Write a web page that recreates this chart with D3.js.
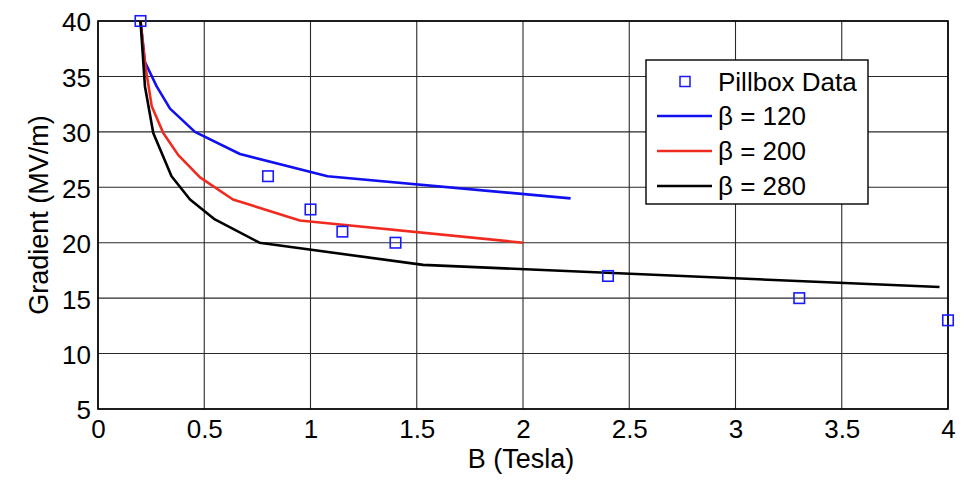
<!DOCTYPE html>
<html>
<head>
<meta charset="utf-8">
<script src="https://cdn.jsdelivr.net/npm/d3@7"></script>
<style>
  html, body { margin: 0; padding: 0; background: #fff; }
  svg { display: block; font-family: "Liberation Sans", Arial, Helvetica, sans-serif; }
</style>
</head>
<body>
<svg id="chart" width="973" height="483"></svg>
<script>
// Measured gradient vs. magnetic field
const pillboxB = [0.2, 0.8, 1.0, 1.15, 1.4, 2.4, 3.3, 4.0];
const pillboxG = [40, 26, 23, 21, 20, 17, 15, 13];

// Model curves for three values of beta
const beta120B = [0.2, 0.221, 0.276, 0.339, 0.456, 0.668, 1.08, 2.224];
const beta120G = [40, 36.3, 34.1, 32.1, 30.0, 28.0, 26.0, 24.0];

const beta200B = [0.2, 0.221, 0.253, 0.307, 0.378, 0.48, 0.635, 0.95, 2.0];
const beta200G = [40, 36.2, 32.3, 29.9, 27.9, 25.9, 23.9, 22.0, 20.0];

const beta280B = [0.2, 0.221, 0.26, 0.346, 0.433, 0.55, 0.76, 1.53, 3.96];
const beta280G = [40, 34.1, 29.9, 26.0, 23.9, 22.1, 20.0, 18.0, 16.0];

const xTicks = [0, 0.5, 1, 1.5, 2, 2.5, 3, 3.5, 4];
const yTicks = [5, 10, 15, 20, 25, 30, 35, 40];

const seriesNames = ["Pillbox Data", "\u03B2 = 120", "\u03B2 = 200", "\u03B2 = 280"];
const seriesColors = ["#1a1aff", "#1010f0", "#f02a1e", "#000000"];

const svg = d3.select("#chart");
const margin = { left: 98, top: 21, right: 973 - 948, bottom: 483 - 409 };
const W = 973 - margin.left - margin.right;
const H = 483 - margin.top - margin.bottom;

const x = d3.scaleLinear().domain([0, 4]).range([margin.left, margin.left + W]);
const y = d3.scaleLinear().domain([5, 40]).range([margin.top + H, margin.top]);

// grid
const grid = svg.append("g");
grid.selectAll("line.gx").data(xTicks).join("line")
  .attr("x1", d => x(d)).attr("x2", d => x(d))
  .attr("y1", y(5)).attr("y2", y(40))
  .attr("stroke", "#2a2a2a").attr("stroke-width", 1.1);
grid.selectAll("line.gy").data(yTicks).join("line")
  .attr("x1", x(0)).attr("x2", x(4))
  .attr("y1", d => y(d)).attr("y2", d => y(d))
  .attr("stroke", "#2a2a2a").attr("stroke-width", 1.1);

// axes (labels only; frame drawn separately)
const xAxis = svg.append("g").attr("transform", `translate(0,${y(5)})`)
  .call(d3.axisBottom(x).tickValues(xTicks).tickSize(0).tickPadding(11).tickFormat(d3.format("")));
const yAxis = svg.append("g").attr("transform", `translate(${x(0)},0)`)
  .call(d3.axisLeft(y).tickValues(yTicks).tickSize(0).tickPadding(7).tickFormat(d3.format("")));
[xAxis, yAxis].forEach(a => {
  a.select(".domain").remove();
  a.selectAll("text").attr("font-size", 26).attr("fill", "#000")
    .attr("font-family", "Liberation Sans, Arial, sans-serif");
});
yAxis.selectAll("text").attr("dy", "0.38em");

// frame
svg.append("rect")
  .attr("x", x(0)).attr("y", y(40))
  .attr("width", x(4) - x(0)).attr("height", y(5) - y(40))
  .attr("fill", "none").attr("stroke", "#000").attr("stroke-width", 1.6);

// curves
const line = d3.line().x(d => x(d[0])).y(d => y(d[1]));
const curves = [
  [beta120B, beta120G, seriesColors[1]],
  [beta200B, beta200G, seriesColors[2]],
  [beta280B, beta280G, seriesColors[3]]
];
curves.forEach(([bs, gs, c]) => {
  svg.append("path")
    .datum(bs.map((b, i) => [b, gs[i]]))
    .attr("d", line)
    .attr("fill", "none").attr("stroke", c)
    .attr("stroke-width", 2.6).attr("stroke-linejoin", "round");
});

// pillbox markers
const sq = 10.5;
svg.append("g").selectAll("rect").data(pillboxB.map((b, i) => [b, pillboxG[i]])).join("rect")
  .attr("x", d => x(d[0]) - sq / 2).attr("y", d => y(d[1]) - sq / 2)
  .attr("width", sq).attr("height", sq)
  .attr("fill", "none").attr("stroke", seriesColors[0]).attr("stroke-width", 1.6);

// axis titles
svg.append("text").attr("x", 521).attr("y", 468)
  .attr("text-anchor", "middle").attr("font-size", 27).text("B (Tesla)");
svg.append("text")
  .attr("transform", `translate(48,${(y(5) + y(40)) / 2}) rotate(-90)`)
  .attr("text-anchor", "middle").attr("font-size", 27).text("Gradient (MV/m)");

// legend
const lg = svg.append("g");
lg.append("rect").attr("x", 646).attr("y", 60).attr("width", 222).attr("height", 144)
  .attr("fill", "#fff").attr("stroke", "#000").attr("stroke-width", 1.4);
const rowY = [81.5, 116, 151, 186];
seriesNames.forEach((name, i) => {
  if (i === 0) {
    lg.append("rect").attr("x", 685 - 5).attr("y", rowY[i] - 5).attr("width", 10).attr("height", 10)
      .attr("fill", "none").attr("stroke", seriesColors[0]).attr("stroke-width", 1.5);
  } else {
    lg.append("line").attr("x1", 657).attr("x2", 712).attr("y1", rowY[i]).attr("y2", rowY[i])
      .attr("stroke", seriesColors[i]).attr("stroke-width", 2.6);
  }
  lg.append("text").attr("x", 718).attr("y", rowY[i]).attr("dy", "0.36em")
    .attr("font-size", 26).text(name);
});
</script>
</body>
</html>
